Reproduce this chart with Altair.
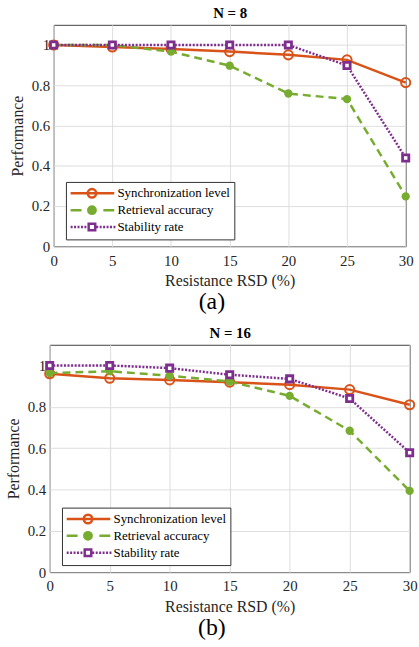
import altair as alt
import pandas as pd

FONT = "Times New Roman, Liberation Serif, serif"

rsd = [0, 5, 10, 15, 20, 25, 30]
series_names = ["Synchronization level", "Retrieval accuracy", "Stability rate"]
series_colors = ["#D95319", "#77AC30", "#7E2F8E"]
legend_fills = ["transparent", "#77AC30", "white"]
x_ticks = [0, 5, 10, 15, 20, 25, 30]
y_ticks = [0, 0.2, 0.4, 0.6, 0.8, 1]

sync_n8 = [1.0, 0.99, 0.98, 0.967, 0.951, 0.926, 0.813]
retr_n8 = [1.0, 1.0, 0.967, 0.897, 0.759, 0.731, 0.248]
stab_n8 = [1.0, 1.0, 1.0, 1.0, 1.0, 0.898, 0.439]

sync_n16 = [0.960, 0.938, 0.930, 0.919, 0.907, 0.883, 0.810]
retr_n16 = [0.963, 0.972, 0.950, 0.922, 0.853, 0.684, 0.393]
stab_n16 = [1.0, 1.0, 0.987, 0.955, 0.935, 0.840, 0.578]

# legend symbol paths (unit coords, scaled by sqrt(symbolSize)/2)
L0, L1, CX = -1.125, 6.21, 2.46


def hseg(a, b):
    return f"M{a:.3f},0H{b:.3f}"


def circle(cx, r):
    return (f"M{cx + r:.3f},0A{r:.3f},{r:.3f} 0 1,1 {cx - r:.3f},0"
            f"A{r:.3f},{r:.3f} 0 1,1 {cx + r:.3f},0Z")


def square(cx, h):
    return f"M{cx - h:.3f},{-h:.3f}H{cx + h:.3f}V{h:.3f}H{cx - h:.3f}Z"


path_sync = hseg(L0, L1) + circle(CX, 0.72)
path_retr = hseg(L0, L0 + 1.83) + hseg(L1 - 1.83, L1) + circle(CX, 0.62)
dots = []
p = L0
while p < CX - 0.62 - 0.2:
    dots.append(hseg(p, p + 0.33))
    p += 0.58
p = CX + 0.62 + 0.1
while p < L1 - 0.1:
    dots.append(hseg(p, p + 0.33))
    p += 0.58
path_stab = "".join(dots) + square(CX, 0.55)
legend_paths = [path_sync, path_retr, path_stab]


def make_legend(lx, ly):
    return alt.Legend(
        orient="none", legendX=lx, legendY=ly, title=None, direction="vertical",
        symbolSize=144, symbolStrokeWidth=2.5, symbolOpacity=1,
        labelFont=FONT, labelFontSize=13, labelColor="black", labelOffset=33,
        labelLimit=400, padding=4, rowPadding=-3.5,
        strokeColor="#333333", fillColor="white",
    )


def panel(sync, retr, stab, title, tag, w, h, lx, ly):
    rows = []
    for name, vals in zip(series_names, [sync, retr, stab]):
        for xv, v in zip(rsd, vals):
            rows.append({"rsd": xv, "value": v, "series": name})
    df = pd.DataFrame(rows)
    base = alt.Chart(df)

    xscale = alt.Scale(domain=[0, 30], nice=False)
    yscale = alt.Scale(domain=[0, 1.1], nice=False)
    x_main = alt.X("rsd:Q", scale=xscale, axis=alt.Axis(
        values=x_ticks, format="~g", title="Resistance RSD (%)", grid=True,
        ticks=False, domain=False, labelPadding=7, labelFontSize=15, labelFlush=False,
        titleFontSize=16, titlePadding=5, titleFontWeight="normal"))
    x_top = alt.X("rsd:Q", scale=xscale, axis=alt.Axis(
        orient="top", labels=False, ticks=False, domain=False, grid=False,
        title=title, titleFontSize=15, titleFontWeight="bold", titlePadding=4,
        titleColor="black"))
    x_none = alt.X("rsd:Q", scale=xscale, axis=None)
    y_main = alt.Y("value:Q", scale=yscale, axis=alt.Axis(
        values=y_ticks, format="~g", title="Performance", grid=True,
        ticks=False, domain=False, labelPadding=4, labelFontSize=15, labelFlush=False,
        titleFontSize=16, titlePadding=6, titleFontWeight="normal"))
    y_none = alt.Y("value:Q", scale=yscale, axis=None)
    leg = make_legend(lx, ly)

    def flt(i):
        return alt.datum.series == series_names[i]

    l1 = base.mark_line(strokeWidth=2.5, color=series_colors[0]).encode(
        x=x_main, y=y_main).transform_filter(flt(0))
    p1 = base.mark_point(shape="circle", size=85, strokeWidth=2, filled=False,
                         color=series_colors[0], opacity=1).encode(
        x=x_top, y=y_none).transform_filter(flt(0))
    l2 = base.mark_line(strokeWidth=2.5, strokeDash=[8, 5], color=series_colors[1]).encode(
        x=x_none, y=y_none).transform_filter(flt(1))
    p2 = base.mark_point(shape="circle", size=70, filled=True,
                         color=series_colors[1], opacity=1).encode(
        x=x_none, y=y_none).transform_filter(flt(1))
    l3 = base.mark_line(strokeWidth=2.5, strokeDash=[2, 1.6], color=series_colors[2]).encode(
        x=x_none, y=y_none).transform_filter(flt(2))
    p3 = base.mark_point(shape="square", size=40, strokeWidth=2.8, filled=False, fill="white",
                         color=series_colors[2], opacity=1).encode(
        x=x_none, y=y_none).transform_filter(flt(2))
    # legend-only layer: no rows pass the filter, entries come from the explicit scale domain
    lg = base.mark_point(opacity=1, strokeWidth=2.5, filled=False).encode(
        x=x_none, y=y_none,
        color=alt.Color("series:N", scale=alt.Scale(domain=series_names, range=series_colors), legend=leg),
        shape=alt.Shape("series:N", scale=alt.Scale(domain=series_names, range=legend_paths), legend=leg),
        fill=alt.Fill("series:N", scale=alt.Scale(domain=series_names, range=legend_fills), legend=leg),
    ).transform_filter("false")

    return alt.layer(l1, p1, l2, p2, l3, p3, lg).resolve_axis(
        x="independent", y="independent").properties(
        width=w, height=h,
        title=alt.TitleParams(tag, orient="bottom", anchor="middle", frame="bounds",
                              fontSize=24, font=FONT, fontWeight="normal", offset=1,
                              color="black"))


top = panel(sync_n8, retr_n8, stab_n8, "N = 8", "(a)", 355.4, 223.6, 12.4, 158.6)
bottom = panel(sync_n16, retr_n16, stab_n16, "N = 16", "(b)", 363.4, 229.5, 12.4, 164.4)

chart = alt.vconcat(top, bottom, spacing=10, center=True).resolve_scale(
    color="independent", shape="independent", fill="independent").properties(
    padding={"left": 4, "top": 2, "right": 0, "bottom": 0},
    background="white",
).configure_view(stroke="#404040", strokeWidth=1).configure_axis(
    labelFont=FONT, titleFont=FONT, labelColor="#262626", titleColor="#262626",
    gridColor="#DEDEDE", gridWidth=1,
).configure_title(font=FONT)

chart.save("out.html", embed_options={"renderer": "svg", "actions": False})
